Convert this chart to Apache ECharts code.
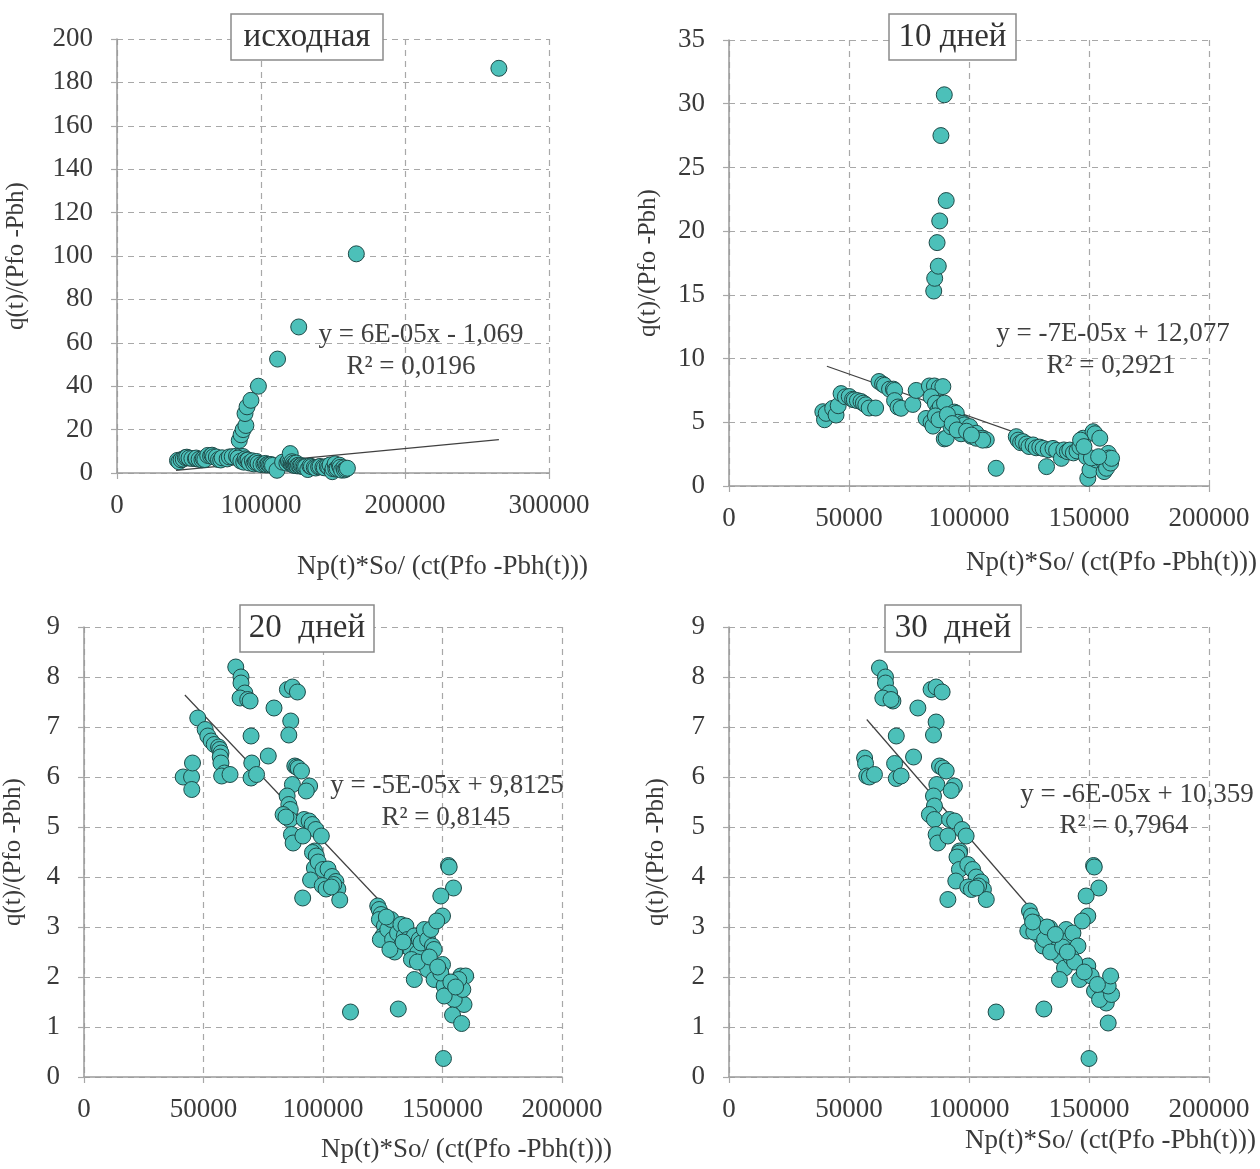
<!DOCTYPE html>
<html lang="ru">
  <head>
    <meta charset="UTF-8" />
    <title>Np(t)*So/(ct(Pfo-Pbh(t)))</title>
    <script src="https://cdn.jsdelivr.net/npm/echarts/dist/echarts.min.js"></script>
  </head>
  <body style="margin: 0; background: #fff">
    <div id="main" style="width: 1260px; height: 1169px"></div>
    <script type="text/javascript">
      // panel titles
      const titles = ["исходная", "10 дней", "20  дней", "30  дней"];
      const equations = ["y = 6E-05x - 1,069", "y = -7E-05x + 12,077", "y = -5E-05x + 9,8125", "y = -6E-05x + 10,359"];
      const rSquared = ["R² = 0,0196", "R² = 0,2921", "R² = 0,8145", "R² = 0,7964"];
      const xName = "Np(t)*So/ (ct(Pfo -Pbh(t)))";
      const yName = "q(t)/(Pfo -Pbh)";

      // axis ranges [min, max, interval]
      const xRanges = [[0, 300000, 100000], [0, 200000, 50000], [0, 200000, 50000], [0, 200000, 50000]];
      const yRanges = [[0, 200, 20], [0, 35, 5], [0, 9, 1], [0, 9, 1]];

      // исходная
      const pts0 = [
        [42000, 5.8], [43000, 5.2], [44500, 6.1], [46000, 6.4], [47500, 7.1], [48500, 7.3], [50000, 6.9], [52000, 6.7],
        [54500, 6.6], [55000, 6.9], [57000, 6.3], [59000, 6.1], [60000, 6.6], [61000, 6.2], [63000, 8.1], [65000, 7.8],
        [66000, 8.2], [67000, 7.5], [69000, 7.4], [70500, 6.2], [72000, 6.0], [73000, 7.0], [76500, 6.5], [78000, 7.4],
        [80000, 7.5], [83000, 7.8], [85500, 7.8], [87500, 7.6], [84000, 6.9], [86000, 5.5], [88000, 5.0], [89000, 6.5],
        [90000, 5.8], [91000, 6.0], [92000, 4.6], [94000, 5.6], [95000, 4.2], [96000, 4.9], [97000, 5.3], [98000, 4.5],
        [100000, 3.9], [102000, 4.1], [103000, 4.4], [104000, 3.7], [105000, 4.0], [106000, 3.7], [107000, 3.9],
        [108000, 3.5], [111100, 1.25], [115000, 5.0], [118000, 4.5], [119000, 5.5], [120000, 4.8], [120300, 8.95],
        [121000, 4.2], [121500, 5.2], [122000, 3.8], [122500, 4.5], [123000, 3.5], [123500, 4.0], [124000, 3.9],
        [124500, 4.6], [125000, 3.3], [126000, 3.6], [127000, 3.2], [128000, 3.4], [129000, 3.0], [130000, 2.8],
        [131000, 2.9], [132500, 1.6], [134000, 3.2], [135000, 2.9], [137000, 2.6], [138000, 2.3], [140000, 2.8],
        [141000, 3.0], [143000, 2.7], [144000, 2.4], [146000, 3.1], [147000, 2.6], [148000, 3.7], [149500, 0.6],
        [150000, 2.0], [151500, 4.2], [152000, 1.8], [153000, 2.1], [154500, 3.6], [155000, 2.6], [156000, 1.3],
        [157500, 2.4], [158000, 1.4], [159000, 1.8], [160000, 2.2],
        [84900, 15.0], [86200, 17.6], [87600, 20.0], [89500, 21.9], [88900, 27.4], [90300, 30.5], [93000, 33.5],
        [98200, 40.0], [111500, 52.5], [126200, 67.3], [166200, 101.0], [265200, 186.5]
      ];

      // 10 дней
      const pts10 = [
        [39100, 5.83], [39800, 5.2], [40500, 5.7], [43200, 6.09], [44600, 5.57], [45500, 6.3], [46700, 7.25],
        [48500, 7.0], [50100, 7.02], [51500, 6.8], [52200, 6.76], [53500, 6.7], [55000, 6.63], [56000, 6.5],
        [57000, 6.37], [58400, 6.12], [61100, 6.12],
        [62500, 8.2], [64000, 8.0], [64800, 7.9], [66900, 7.6], [68500, 7.6], [69000, 7.5], [69000, 6.7],
        [70400, 6.2], [71700, 6.1], [76600, 6.4], [78000, 7.5], [83500, 7.85], [85600, 7.85], [87600, 7.72],
        [89100, 7.8], [84200, 7.0], [86000, 6.5],
        [82100, 5.3], [84200, 5.0], [85000, 4.7], [87000, 5.9], [88000, 6.2], [89800, 6.5], [89700, 5.4],
        [89700, 3.7], [90500, 3.75], [92500, 4.65], [93900, 5.8], [94700, 5.7], [95300, 5.0], [96700, 4.1],
        [97500, 4.92], [98100, 4.8], [100300, 4.66], [100900, 3.9], [103000, 4.14], [103000, 3.75], [105800, 3.75],
        [107200, 3.62], [105700, 3.6], [86000, 5.5], [87500, 5.2], [91000, 5.6], [93000, 4.9], [95000, 4.4],
        [99000, 4.3], [101000, 4.0],
        [85300, 15.3], [85700, 16.3], [87200, 17.25], [86700, 19.1], [87800, 20.8], [90500, 22.4], [88300, 27.5],
        [89700, 30.7],
        [111300, 1.39], [119700, 3.87], [120500, 3.6], [121500, 3.4], [122500, 3.48], [124000, 3.3], [125000, 3.1],
        [126700, 3.22], [128000, 3.0], [129500, 3.05], [130900, 2.95], [132300, 1.52], [133000, 2.85], [135000, 2.95],
        [136500, 2.8], [138500, 2.17], [139500, 2.83], [141000, 2.7], [142000, 2.82], [143500, 2.6], [145000, 2.75],
        [146200, 3.08], [147600, 3.75], [148900, 2.3], [149500, 0.6], [150400, 1.26], [151700, 4.26], [152500, 4.1],
        [153100, 2.04], [154500, 3.75], [155900, 1.98], [156300, 1.13], [157300, 1.39], [158000, 2.56], [158300, 2.2],
        [159000, 1.8], [159400, 2.17], [151000, 2.2], [154000, 2.3], [146500, 3.6], [147900, 3.09]
      ];

      // 20 дней
      const pts20 = [
        [41500, 6.0], [45000, 6.0], [45100, 5.75], [45400, 6.28],
        [47600, 7.18], [50700, 6.95], [51800, 6.82], [53200, 6.72], [54500, 6.65], [56300, 6.6], [56800, 6.55],
        [57300, 6.48], [57000, 6.4], [57300, 6.28], [58800, 6.08], [57600, 6.02], [61100, 6.05],
        [63500, 8.2], [65700, 8.0], [65700, 7.88], [67300, 7.68], [65300, 7.58], [68500, 7.55], [69500, 7.52],
        [79500, 7.38], [85100, 7.75], [87200, 7.8], [89300, 7.7], [86500, 7.12], [85700, 6.84], [69900, 6.82],
        [77100, 6.42], [70200, 6.28], [69900, 5.98], [72200, 6.05],
        [88200, 6.22], [89000, 6.2], [89600, 6.18], [91000, 6.12], [87200, 5.85], [94400, 5.82], [93000, 5.72],
        [85000, 5.62], [85700, 5.45], [86300, 5.35], [83300, 5.25], [86100, 5.15], [84500, 5.2], [92100, 5.15],
        [94200, 5.12], [95500, 5.05], [97000, 4.95], [99300, 4.82], [86800, 4.85], [87500, 4.68], [91600, 4.82],
        [96500, 4.52], [95600, 4.49], [97200, 4.42], [96400, 4.18], [94800, 3.94], [91500, 3.58], [98000, 4.3],
        [100000, 4.15], [102100, 4.16], [103800, 4.01], [99700, 3.83], [101300, 3.76], [105400, 3.91], [106200, 3.76],
        [107000, 3.54], [104500, 3.85], [103500, 3.8],
        [122900, 3.42], [123500, 3.35], [124300, 3.25], [123600, 3.15], [125700, 3.02], [125000, 2.82], [124000, 2.75],
        [127100, 2.95], [128500, 3.15], [129100, 2.75], [131200, 2.88], [132600, 2.62], [132600, 3.05], [134000, 2.82],
        [134700, 3.02], [135400, 2.75], [136800, 2.55], [138200, 2.82], [139600, 2.48], [140300, 2.75], [141000, 2.68],
        [142400, 2.95], [143800, 2.75], [145100, 2.95], [145800, 2.62], [146500, 2.55], [141700, 2.28], [143800, 2.15],
        [138200, 1.95], [146500, 1.95], [150000, 2.25], [150700, 1.82], [152800, 1.68], [156200, 1.62], [157600, 2.02],
        [159700, 2.02], [159000, 1.45], [154900, 1.55], [150700, 1.62], [149300, 2.08], [158500, 1.75], [156800, 1.95],
        [153500, 1.9], [130000, 2.5], [128000, 2.55], [137000, 2.35], [139500, 2.3], [126500, 3.2], [133500, 2.7],
        [144500, 2.4], [148000, 2.2], [155500, 1.8],
        [152500, 4.23], [152800, 4.2], [154600, 3.78], [149300, 3.62], [150000, 3.22], [147600, 3.12], [111500, 1.3],
        [131500, 1.36], [150400, 0.37], [154200, 1.24], [158000, 1.07]
      ];

      // 30 дней
      const pts30 = [
        [56500, 6.38], [56900, 6.27], [57400, 6.02], [58500, 6.0], [60600, 6.05],
        [62700, 8.18], [65200, 8.0], [65200, 7.88], [66900, 7.68], [64100, 7.58], [68300, 7.52], [67500, 7.55],
        [78700, 7.38], [84200, 7.75], [86300, 7.8], [88800, 7.7], [86300, 7.1], [85200, 6.84], [69700, 6.82],
        [76900, 6.4], [69000, 6.27], [69700, 5.97], [71700, 6.02],
        [87700, 6.22], [89100, 6.18], [90500, 6.12], [86600, 5.85], [93900, 5.82], [92600, 5.73], [85200, 5.62],
        [85600, 5.42], [83500, 5.25], [85600, 5.15], [91900, 5.15], [94000, 5.12], [97100, 4.95], [98800, 4.82],
        [86300, 4.85], [87000, 4.68], [91200, 4.82], [96100, 4.52],
        [96000, 4.48], [95000, 4.4], [96000, 4.15], [94500, 3.92], [91200, 3.55], [99500, 4.25], [101500, 4.15],
        [103000, 4.0], [99500, 3.8], [101000, 3.75], [105000, 3.9], [106000, 3.75], [107200, 3.55], [104000, 3.82],
        [103000, 3.78],
        [125200, 3.32], [124500, 2.92], [126000, 3.22], [128000, 3.08], [129400, 2.82], [130800, 2.62], [133600, 2.98],
        [135000, 2.75], [136400, 2.55], [137700, 2.42], [140500, 2.95], [141900, 2.75], [143300, 2.88], [145400, 2.62],
        [139800, 2.18], [137700, 1.95], [146100, 1.95], [149500, 2.22], [150900, 2.02], [152300, 1.72], [155800, 1.68],
        [157200, 1.48], [154400, 1.55], [159400, 1.65], [158000, 1.82], [127000, 2.9], [131500, 2.75], [134000, 2.5],
        [139000, 2.6], [142500, 2.4], [144000, 2.3], [132500, 3.0], [148000, 2.1], [126500, 3.1], [136000, 2.85],
        [141000, 2.5], [153500, 1.85],
        [151900, 4.23], [152200, 4.2], [154100, 3.78], [148800, 3.62], [149500, 3.22], [147200, 3.12], [111300, 1.3],
        [131200, 1.36], [150000, 0.37], [158000, 1.08], [159000, 2.02]
      ];

      // linear trend lines, end points
      const trend0 = [[41000, 1.2], [265200, 15.4]];
      const trend10 = [[40800, 9.4], [160000, 1.5]];
      const trend20 = [[42200, 7.64], [160200, 1.68]];
      const trend30 = [[57400, 7.15], [158900, 1.53]];

      const points = [pts0, pts10, pts20, pts30];
      const trends = [trend0, trend10, trend20, trend30];

      const font = "'Liberation Serif', 'Times New Roman', serif";
      const textColor = "#3a3a3a";
      const gridColor = "#a8a8a8";

      // layout of the four plot areas
      const grids = [
        { left: 117, top: 39, width: 432, height: 434 },
        { left: 729, top: 40, width: 480, height: 446 },
        { left: 82, top: 627, width: 480, height: 450 },
        { left: 729, top: 627, width: 480, height: 450 },
      ];
      const yNameGap = [88, 68, 58, 60];
      const titleBoxes = [
        { x: 231, y: 14, w: 152, h: 46 },
        { x: 889, y: 14, w: 127, h: 46 },
        { x: 240, y: 605, w: 134, h: 47 },
        { x: 885, y: 605, w: 136, h: 47 },
      ];
      const eqPos = [
        [421, 335, 411, 367],
        [1113, 334, 1111, 366],
        [447, 786, 446, 818],
        [1137, 795, 1124, 826],
      ];
      const xNamePos = [[588, 567], [1257, 563], [612, 1150], [1256, 1141]];

      const dashed = { color: gridColor, type: [6, 5], width: 1.2 };

      let xAxes = [], yAxes = [], series = [], graphics = [];
      for (let i = 0; i < 4; i++) {
        xAxes.push({
          type: "value", gridIndex: i,
          min: xRanges[i][0], max: xRanges[i][1], interval: xRanges[i][2],
          axisLine: { lineStyle: { color: "#9a9a9a", width: 1.5 } },
          axisTick: { show: true, length: 8, lineStyle: dashed },
          splitLine: { show: true, lineStyle: dashed },
          axisLabel: {
            fontFamily: font, fontSize: 27, color: textColor, margin: 19,
            formatter: (v) => String(v),
          },
        });
        yAxes.push({
          type: "value", gridIndex: i,
          min: yRanges[i][0], max: yRanges[i][1], interval: yRanges[i][2],
          name: yName, nameLocation: "middle", nameGap: yNameGap[i],
          nameTextStyle: { fontFamily: font, fontSize: 25, color: textColor },
          axisLine: { show: true, lineStyle: { color: "#9a9a9a", width: 1.5 } },
          axisTick: { show: true, length: 9, lineStyle: dashed },
          splitLine: { show: true, lineStyle: dashed },
          axisLabel: {
            fontFamily: font, fontSize: 27, color: textColor, margin: 24,
            formatter: (v) => String(v),
          },
        });
        series.push({
          type: "line", xAxisIndex: i, yAxisIndex: i, data: trends[i],
          symbol: "none", silent: true, z: 2,
          lineStyle: { color: "#404040", width: 1.2 },
        });
        series.push({
          type: "scatter", xAxisIndex: i, yAxisIndex: i, data: points[i],
          symbolSize: 16, z: 3,
          itemStyle: { color: "#4cc0b9", borderColor: "#1f4a48", borderWidth: 1, opacity: 1 },
        });

        const b = titleBoxes[i];
        graphics.push({
          type: "rect", z: 10,
          shape: { x: b.x, y: b.y, width: b.w, height: b.h },
          style: { fill: "#fff", stroke: "#8a8a8a", lineWidth: 1.5 },
        });
        graphics.push({
          type: "text", z: 11, x: b.x + b.w / 2, y: b.y + b.h / 2,
          style: { text: titles[i], font: "33px " + font, fill: "#333", align: "center", verticalAlign: "middle" },
        });
        const e = eqPos[i];
        graphics.push({
          type: "text", z: 11, x: e[0], y: e[1],
          style: { text: equations[i], font: "27px " + font, fill: "#404040", align: "center", verticalAlign: "middle" },
        });
        graphics.push({
          type: "text", z: 11, x: e[2], y: e[3],
          style: { text: rSquared[i], font: "27px " + font, fill: "#404040", align: "center", verticalAlign: "middle" },
        });
        graphics.push({
          type: "text", z: 11, x: xNamePos[i][0], y: xNamePos[i][1],
          style: { text: xName, font: "27px " + font, fill: textColor, align: "right", verticalAlign: "middle" },
        });
      }

      let myChart = echarts.init(document.getElementById("main"));
      myChart.setOption({
        animation: false,
        backgroundColor: "#fff",
        grid: grids,
        xAxis: xAxes,
        yAxis: yAxes,
        series: series,
        graphic: graphics,
      });
    </script>
  </body>
</html>
